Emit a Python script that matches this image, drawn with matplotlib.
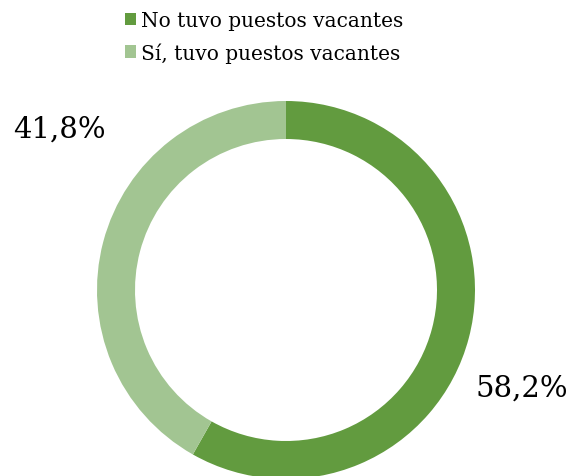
import matplotlib.pyplot as plt
from matplotlib.patches import Patch

categories = ["No tuvo puestos vacantes", "Sí, tuvo puestos vacantes"]
shares = [58.2, 41.8]
labels = ["58,2%", "41,8%"]
colors = ["#629B3F", "#A2C592"]

plt.rcParams["font.family"] = ["DejaVu Serif"]

fig = plt.figure(figsize=(5.71, 4.77), dpi=100)
ax = fig.add_axes([0, 0, 1, 1])

ax.pie(
    shares,
    colors=colors,
    startangle=90,
    counterclock=False,
    center=(286, 186),
    radius=189,
    wedgeprops=dict(width=38, edgecolor="none"),
    frame=True,
)
ax.set_xlim(0, 571)
ax.set_ylim(0, 477)
ax.axis("off")

ax.text(522, 88, labels[0], fontsize=21, ha="center", va="center")
ax.text(59, 347, labels[1], fontsize=21, ha="center", va="center")

handles = [Patch(facecolor=c, edgecolor="none") for c in colors]
ax.legend(
    handles, categories,
    loc="upper left",
    bbox_to_anchor=(113 / 571, 1.0),
    frameon=False,
    fontsize=14.5,
    handlelength=0.55,
    handleheight=0.55,
    handletextpad=0.25,
    labelspacing=0.6,
    borderaxespad=0.2,
)

fig.savefig("out.png", dpi=100)
